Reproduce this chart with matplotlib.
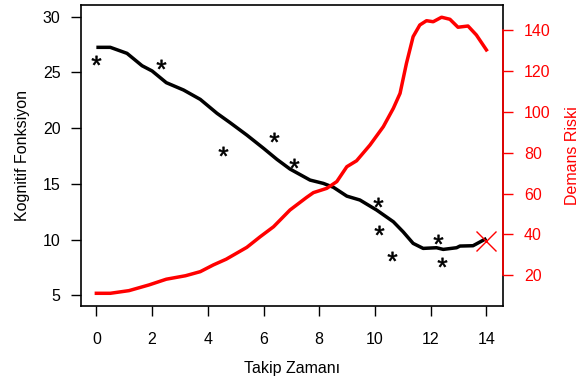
import matplotlib
matplotlib.use("Agg")
import matplotlib.pyplot as plt
from matplotlib.textpath import TextPath
from matplotlib.font_manager import FontProperties
from matplotlib.path import Path

plt.rcParams['font.family'] = ['Liberation Sans', 'DejaVu Sans']

# Cognitive function curve (left axis)
cog_x = [0.0, 0.5, 1.10, 1.64, 2.0, 2.51, 3.13, 3.73, 4.33, 4.80, 5.40, 6.0, 6.48,
         6.95, 7.67, 8.15, 8.51, 8.99, 9.46, 10.06, 10.66, 11.01, 11.37, 11.73,
         12.21, 12.45, 12.93, 13.05, 13.52, 14.0]
cog_y = [27.25, 27.25, 26.71, 25.6, 25.13, 24.08, 23.42, 22.58, 21.33, 20.49, 19.38,
         18.19, 17.2, 16.33, 15.34, 15.04, 14.69, 13.9, 13.55, 12.65, 11.6, 10.7,
         9.66, 9.21, 9.27, 9.12, 9.27, 9.42, 9.45, 10.1]

# Dementia risk curve (right axis)
risk_x = [0.0, 0.5, 1.17, 1.89, 2.51, 3.2, 3.73, 4.2, 4.66, 5.40, 5.88, 6.36, 6.95,
          7.55, 7.79, 8.27, 8.63, 8.99, 9.34, 9.82, 10.3, 10.66, 10.9, 11.13, 11.37,
          11.61, 11.85, 12.09, 12.39, 12.69, 12.98, 13.34, 13.64, 14.0]
risk_y = [11.2, 11.2, 12.5, 15.3, 18.1, 19.8, 21.8, 25.1, 27.9, 33.7, 38.9, 43.8, 52.0,
          58.2, 60.5, 62.6, 65.9, 73.2, 76.1, 83.8, 92.8, 101.8, 109.1, 123.8, 136.9,
          142.6, 144.7, 144.2, 146.4, 145.4, 141.5, 142.1, 137.7, 130.4]

# Observed points (asterisks)
star_x = [0.0, 2.32, 4.54, 6.39, 7.11, 10.1, 10.14, 10.62, 12.25, 12.39]
star_y = [26.11, 25.75, 17.94, 19.23, 16.9, 13.4, 10.85, 8.52, 10.07, 8.0]

# End marker
end_x = [14.0]
end_y = [9.85]

x_ticks = [0, 2, 4, 6, 8, 10, 12, 14]
left_ticks = [5, 10, 15, 20, 25, 30]
right_ticks = [20, 40, 60, 80, 100, 120, 140]

# asterisk glyph marker from Liberation Sans
tp = TextPath((0, 0), '*', prop=FontProperties(family='Liberation Sans'), size=10)
v = tp.vertices.copy()
codes = tp.codes
real = codes != Path.CLOSEPOLY
cx = (v[real, 0].min() + v[real, 0].max()) / 2
cy = (v[real, 1].min() + v[real, 1].max()) / 2
v[:, 0] -= cx
v[:, 1] -= cy
v[~real] = 0.0
star_marker = Path(v, codes)

fig = plt.figure(figsize=(5.81, 3.83), dpi=100)
ax = fig.add_axes([0.139, 0.201, 0.726, 0.786])
ax2 = ax.twinx()

ax.plot(cog_x, cog_y, color='black', lw=2.5, solid_capstyle='butt', zorder=3)
ax.plot(star_x, star_y, linestyle='none', marker=star_marker, color='black',
        markersize=6.8, markeredgewidth=0.4)
ax.plot(end_x, end_y, linestyle='none', marker='x', color='red', markersize=15,
        markeredgewidth=1.0, zorder=4)

ax2.plot(risk_x, risk_y, color='red', lw=2.5)

ax.set_xlim(-0.56, 14.58)
ax.set_ylim(4.04, 31.05)
ax2.set_ylim(4.97, 152.4)

ax.set_xticks(x_ticks)
ax.set_yticks(left_ticks)
ax2.set_yticks(right_ticks)

for a in (ax, ax2):
    for s in a.spines.values():
        s.set_linewidth(1.2)
ax.tick_params(direction='out', length=7.5, width=1.0, labelsize=11.5, pad=11)
ax.tick_params(axis='y', pad=7)
ax2.tick_params(axis='y', direction='out', length=7.5, width=1.0, labelsize=11.5,
                colors='red', pad=8)
for sp in ['top', 'bottom', 'left']:
    ax2.spines[sp].set_visible(False)
ax2.spines['right'].set_color('red')
ax2.spines['right'].set_bounds(20, 140)
ax2.spines['right'].set_zorder(5)

ax.set_xlabel('Takip Zamanı', fontsize=11.5, labelpad=10)
ax.set_ylabel('Kognitif Fonksiyon', fontsize=11.5, labelpad=9)
ax2.set_ylabel('Demans Riski', fontsize=11.5, color='red', labelpad=10)

fig.savefig('out.png', dpi=100)
